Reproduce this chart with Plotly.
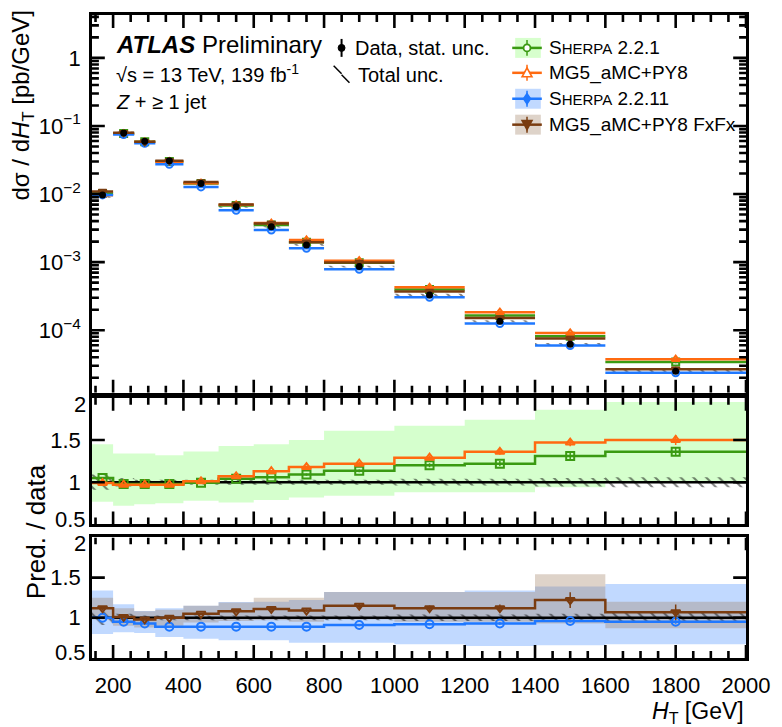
import math
import plotly.graph_objects as go
from plotly.subplots import make_subplots

# ---- binning and measured cross-section -------------------------------------
ht_edges = [140, 200, 260, 320, 400, 500, 600, 700, 800, 1000, 1200, 1400, 1600, 2000]
data_xsec = [9.7e-3, 7.9e-2, 5.97e-2, 3.08e-2, 1.43e-2, 6.5e-3, 3.32e-3,
             1.79e-3, 8.6e-4, 3.3e-4, 1.35e-4, 6.2e-5, 2.5e-5]          # pb/GeV
data_stat_rel = [0.01, 0.003, 0.003, 0.004, 0.005, 0.006, 0.008,
                 0.01, 0.012, 0.02, 0.03, 0.04, 0.05]
data_total_rel = [0.09, 0.05, 0.03, 0.03, 0.03, 0.03, 0.03,
                  0.03, 0.03, 0.04, 0.04, 0.05, 0.06]

# ---- predictions, as ratio to data ------------------------------------------
ratio_sherpa221 = [1.05, 0.98, 0.98, 0.98, 0.995, 1.04, 1.06, 1.09, 1.135, 1.20, 1.22, 1.31, 1.36]
band_sherpa221_lo = [0.77, 0.72, 0.74, 0.75, 0.78, 0.76, 0.79, 0.82, 0.84, 0.88, 0.88, 0.94, 1.00]
band_sherpa221_hi = [1.45, 1.34, 1.34, 1.32, 1.365, 1.43, 1.45, 1.50, 1.61, 1.67, 1.74, 1.86, 1.95]
stat_sherpa221 = [0.01, 0.005, 0.005, 0.005, 0.006, 0.008, 0.01, 0.012, 0.015, 0.02, 0.025, 0.03, 0.035]

ratio_mg5 = [0.99, 0.97, 0.97, 0.97, 1.01, 1.07, 1.13, 1.18, 1.22, 1.29, 1.36, 1.47, 1.50]
stat_mg5 = [0.01, 0.005, 0.005, 0.005, 0.006, 0.008, 0.01, 0.012, 0.015, 0.02, 0.025, 0.03, 0.04]

ratio_sherpa2211 = [1.00, 0.95, 0.93, 0.89, 0.89, 0.89, 0.89, 0.89, 0.91, 0.92, 0.93, 0.96, 0.95]
band_sherpa2211_lo = [0.80, 0.82, 0.81, 0.76, 0.74, 0.72, 0.72, 0.69, 0.69, 0.67, 0.65, 0.66, 0.67]
band_sherpa2211_hi = [1.34, 1.17, 1.085, 1.12, 1.15, 1.195, 1.20, 1.22, 1.32, 1.32, 1.34, 1.39, 1.42]
stat_sherpa2211 = [0.01, 0.005, 0.005, 0.005, 0.006, 0.008, 0.01, 0.012, 0.015, 0.015, 0.02, 0.02, 0.025]

ratio_fxfx = [1.12, 1.01, 0.98, 1.00, 1.05, 1.08, 1.11, 1.09, 1.15, 1.12, 1.12, 1.22, 1.07]
band_fxfx_lo = [0.98, 0.90, 0.88, 0.90, 0.94, 0.96, 0.97, 0.95, 0.98, 0.95, 0.95, 0.93, 0.87]
band_fxfx_hi = [1.25, 1.12, 1.08, 1.10, 1.15, 1.19, 1.25, 1.25, 1.32, 1.32, 1.32, 1.54, 1.20]
stat_fxfx = [0.02, 0.01, 0.01, 0.01, 0.01, 0.015, 0.02, 0.02, 0.03, 0.03, 0.04, 0.08, 0.09]

# axis settings
x_range = [140, 2000]
x_major = list(range(200, 2001, 200))
x_minor = [v for v in range(150, 2001, 50) if v % 200]
top_log_range = [-4.92, 0.63]
top_major = [1e-4, 1e-3, 1e-2, 1e-1, 1]
top_ticktext = ["10<sup>−4</sup>", "10<sup>−3</sup>", "10<sup>−2</sup>", "10<sup>−1</sup>", "1"]
top_minor = [m * 10.0 ** k for k in range(-5, 1) for m in range(2, 10)]
ratio_range = [0.5, 2.0]
ratio_major = [1.0, 1.5]

FONT = "Liberation Sans, Arial, Helvetica, sans-serif"
C_GREEN, C_ORANGE, C_BLUE, C_BROWN = "#3a9a12", "#ff6a10", "#1f78ff", "#7a3c10"
BAND_GREEN = "rgba(150,255,130,0.40)"
BAND_BLUE = "rgba(100,160,255,0.40)"
BAND_TAN = "rgba(160,130,100,0.35)"

H, W = 727, 782
MT, MB, ML, MR = 13, 69, 92, 27
ph = H - MT - MB
pw = W - ML - MR
panels_px = [(13, 392), (397, 524), (537, 658)]   # top / bottom pixel edge of each panel

n_bins = len(ht_edges) - 1
centers = [(ht_edges[i] + ht_edges[i + 1]) / 2 for i in range(n_bins)]


def segments(vals):
    xs, ys = [], []
    for i, v in enumerate(vals):
        xs += [ht_edges[i], ht_edges[i + 1], None]
        ys += [v, v, None]
    return xs, ys


def boxes(lo, hi):
    xs, ys = [], []
    for i in range(n_bins):
        a, b = ht_edges[i], ht_edges[i + 1]
        xs += [a, b, b, a, a, None]
        ys += [lo[i], lo[i], hi[i], hi[i], lo[i], None]
    return xs, ys


def step(vals):
    return list(ht_edges), list(vals) + [vals[-1]]


fig = make_subplots(rows=3, cols=1, shared_xaxes=True)

hatch = dict(shape="\\", fgcolor="black", bgcolor="rgba(0,0,0,0)", size=9, solidity=0.22)

# ---------------- top panel: differential cross-section ---------------------
tot_lo = [d * (1 - r) for d, r in zip(data_xsec, data_total_rel)]
tot_hi = [d * (1 + r) for d, r in zip(data_xsec, data_total_rel)]
bx, by = boxes(tot_lo, tot_hi)
fig.add_trace(go.Scatter(x=bx, y=by, mode="lines", fill="toself", line=dict(width=0),
                         fillcolor="rgba(0,0,0,0)", fillpattern=hatch, hoverinfo="skip"),
              row=1, col=1)

preds = [
    (ratio_sherpa221, stat_sherpa221, C_GREEN, "square-open"),
    (ratio_mg5, stat_mg5, C_ORANGE, "triangle-up-open"),
    (ratio_sherpa2211, stat_sherpa2211, C_BLUE, "circle-open"),
    (ratio_fxfx, stat_fxfx, C_BROWN, "triangle-down-open"),
]
for ratio, stat, color, sym in preds:
    vals = [d * r for d, r in zip(data_xsec, ratio)]
    sx, sy = segments(vals)
    fig.add_trace(go.Scatter(x=sx, y=sy, mode="lines", line=dict(color=color, width=2.5),
                             hoverinfo="skip"), row=1, col=1)
    fig.add_trace(go.Scatter(x=centers, y=vals, mode="markers",
                             marker=dict(symbol=sym, size=7, color=color, line=dict(width=2)),
                             error_y=dict(type="data", array=[v * s for v, s in zip(vals, stat)],
                                          color=color, thickness=1.5, width=0)),
                  row=1, col=1)

fig.add_trace(go.Scatter(x=centers, y=data_xsec, mode="markers",
                         marker=dict(symbol="circle", size=7, color="black"),
                         error_y=dict(type="data", array=[d * s for d, s in zip(data_xsec, data_stat_rel)],
                                      color="black", thickness=1.5, width=0)),
              row=1, col=1)


# ---------------- ratio panels ----------------------------------------------
def ratio_panel(row, bands, lines):
    for lo, hi, fillc in bands:
        x, y = boxes(lo, hi)
        fig.add_trace(go.Scatter(x=x, y=y, mode="lines", fill="toself", fillcolor=fillc,
                                 line=dict(width=0), hoverinfo="skip"), row=row, col=1)
    lo = [1 - r for r in data_total_rel]
    hi = [1 + r for r in data_total_rel]
    x, y = boxes(lo, hi)
    fig.add_trace(go.Scatter(x=x, y=y, mode="lines", fill="toself", line=dict(width=0),
                             fillcolor="rgba(0,0,0,0)", fillpattern=hatch, hoverinfo="skip"),
                  row=row, col=1)
    ones = [1.0] * n_bins
    x, y = step(ones)
    fig.add_trace(go.Scatter(x=x, y=y, mode="lines", line=dict(color="black", width=2.5, shape="hv"),
                             hoverinfo="skip"), row=row, col=1)
    for ratio, stat, color, sym in lines:
        x, y = step(ratio)
        fig.add_trace(go.Scatter(x=x, y=y, mode="lines", line=dict(color=color, width=2.5, shape="hv"),
                                 hoverinfo="skip"), row=row, col=1)
        fig.add_trace(go.Scatter(x=centers, y=ratio, mode="markers",
                                 marker=dict(symbol=sym, size=8, color=color, line=dict(width=2)),
                                 error_y=dict(type="data", array=[r * s for r, s in zip(ratio, stat)],
                                              color=color, thickness=1.5, width=0)),
                      row=row, col=1)


ratio_panel(2, [(band_sherpa221_lo, band_sherpa221_hi, BAND_GREEN)],
            [(ratio_sherpa221, stat_sherpa221, C_GREEN, "square-open"),
             (ratio_mg5, stat_mg5, C_ORANGE, "triangle-up-open")])
ratio_panel(3, [(band_sherpa2211_lo, band_sherpa2211_hi, BAND_BLUE),
                (band_fxfx_lo, band_fxfx_hi, BAND_TAN)],
            [(ratio_sherpa2211, stat_sherpa2211, C_BLUE, "circle-open"),
             (ratio_fxfx, stat_fxfx, C_BROWN, "triangle-down-open")])


# ---------------- inward tick marks on all four sides ------------------------
def add_ticks(row, log_y):
    t_px, b_px = panels_px[row - 1]
    hpx = b_px - t_px
    if log_y:
        y0, y1 = top_log_range
        yconv = lambda v: 10 ** v
        yvals = [(math.log10(v), 13) for v in top_major] + [(math.log10(v), 7) for v in top_minor]
    else:
        y0, y1 = ratio_range
        yconv = lambda v: v
        yvals = [(v, 13) for v in ratio_major]
    xs, ys = [], []
    for vals, ln in ((x_major, 13), (x_minor, 7)):
        dy = ln / hpx * (y1 - y0)
        for v in vals:
            xs += [v, v, None, v, v, None]
            ys += [yconv(y0), yconv(y0 + dy), None, yconv(y1 - dy), yconv(y1), None]
    for yv, ln in yvals:
        if not y0 <= yv <= y1:
            continue
        dx = ln / pw * (x_range[1] - x_range[0])
        xs += [x_range[0], x_range[0] + dx, None, x_range[1] - dx, x_range[1], None]
        ys += [yconv(yv), yconv(yv), None, yconv(yv), yconv(yv), None]
    fig.add_trace(go.Scatter(x=xs, y=ys, mode="lines", line=dict(color="black", width=2.6),
                             hoverinfo="skip"), row=row, col=1)


add_ticks(1, True)
add_ticks(2, False)
add_ticks(3, False)

# ---------------- axes --------------------------------------------------------
def dom(top_px, bot_px):
    return [(H - MB - bot_px) / ph, (H - MB - top_px) / ph]


axis_common = dict(showline=True, linecolor="black", linewidth=2.5, mirror=True,
                   ticks="", showgrid=False, zeroline=False,
                   tickfont=dict(family=FONT, size=22, color="black"))

fig.update_xaxes(**axis_common, range=x_range, tickmode="array", tickvals=x_major,
                 ticktext=[str(v) for v in x_major])
fig.update_xaxes(showticklabels=False, row=1, col=1)
fig.update_xaxes(showticklabels=False, row=2, col=1)

fig.update_yaxes(**axis_common, type="log", range=top_log_range, tickmode="array",
                 tickvals=top_major, ticktext=top_ticktext, row=1, col=1)
fig.update_yaxes(**axis_common, range=ratio_range, tickmode="array",
                 tickvals=ratio_major, ticktext=["1", "1.5"], row=2, col=1)
fig.update_yaxes(**axis_common, range=ratio_range, tickmode="array",
                 tickvals=ratio_major, ticktext=["1", "1.5"], row=3, col=1)
fig.update_layout(
    yaxis=dict(domain=dom(*panels_px[0]), ticklabelstandoff=4),
    yaxis2=dict(domain=dom(*panels_px[1]), ticklabelstandoff=4),
    yaxis3=dict(domain=dom(*panels_px[2]), ticklabelstandoff=4),
    xaxis3=dict(ticklabelstandoff=6),
)


# ---------------- legend and labels (paper coordinates from pixels) ----------
def px(x):
    return (x - ML) / pw


def py(y):
    return (H - MB - y) / ph


def marker_path(sym, cx, cy, r):
    if sym == "triangle-up":
        pts = [(cx, cy - r), (cx + r, cy + r * 0.8), (cx - r, cy + r * 0.8)]
    elif sym == "triangle-down":
        pts = [(cx, cy + r), (cx + r, cy - r * 0.8), (cx - r, cy - r * 0.8)]
    else:  # diamond
        pts = [(cx, cy - r), (cx + r * 0.7, cy), (cx, cy + r), (cx - r * 0.7, cy)]
    return "M " + " L ".join(f"{px(a):.5f},{py(b):.5f}" for a, b in pts) + " Z"


shapes = []
annotations = []

# data key
shapes.append(dict(type="line", xref="paper", yref="paper", x0=px(345), x1=px(345), y0=py(37), y1=py(55),
                   line=dict(color="black", width=2)))
shapes.append(dict(type="circle", xref="paper", yref="paper", x0=px(341.5), x1=px(348.5), y0=py(49.5), y1=py(42.5),
                   fillcolor="black", line=dict(color="black", width=1)))
# hatch key for total uncertainty
for (x0, y0, x1, y1) in [(337, 64, 345, 72), (345, 73, 353, 81)]:
    shapes.append(dict(type="line", xref="paper", yref="paper", x0=px(x0), y0=py(y0), x1=px(x1), y1=py(y1),
                       line=dict(color="black", width=1.5)))

legend_rows = [
    (46, C_GREEN, "rgba(215,255,205,1)", "circle", False, "S<span style='font-size:15px'>HERPA</span> 2.2.1"),
    (71, C_ORANGE, None, "triangle-up", False, "MG5_aMC+PY8"),
    (97, C_BLUE, "rgba(193,217,255,1)", "diamond", True, "S<span style='font-size:15px'>HERPA</span> 2.2.11"),
    (123, C_BROWN, "rgba(222,211,201,1)", "triangle-down", True, "MG5_aMC+PY8 FxFx"),
]
for yk, color, boxc, sym, filled, label in legend_rows:
    if boxc:
        shapes.append(dict(type="rect", xref="paper", yref="paper", x0=px(521), x1=px(547),
                           y0=py(yk + 10), y1=py(yk - 10), fillcolor=boxc, line=dict(width=0)))
    shapes.append(dict(type="line", xref="paper", yref="paper", x0=px(518), x1=px(548), y0=py(yk), y1=py(yk),
                       line=dict(color=color, width=2.5)))
    shapes.append(dict(type="line", xref="paper", yref="paper", x0=px(533), x1=px(533), y0=py(yk - 8), y1=py(yk + 8),
                       line=dict(color=color, width=1.5)))
    fillc = color if filled else "white"
    if sym == "circle":
        shapes.append(dict(type="circle", xref="paper", yref="paper", x0=px(529.5), x1=px(536.5),
                           y0=py(yk + 3.5), y1=py(yk - 3.5), fillcolor=fillc, line=dict(color=color, width=1.8)))
    else:
        shapes.append(dict(type="path", xref="paper", yref="paper", path=marker_path(sym, 533, yk, 5),
                           fillcolor=fillc, line=dict(color=color, width=1.6)))
    annotations.append(dict(x=px(553), y=py(yk), xref="paper", yref="paper", text=label, showarrow=False,
                            xanchor="left", yanchor="middle",
                            font=dict(family=FONT, size=19, color="black")))

# edge labels of the ratio axes, nudged inside their panel
for text, ypix in (("2", 404), ("0.5", 519), ("2", 543), ("0.5", 652)):
    annotations.append(dict(x=px(ML - 4), y=py(ypix), xref="paper", yref="paper", text=text,
                            showarrow=False, xanchor="right", yanchor="middle",
                            font=dict(family=FONT, size=22, color="black")))

annotations += [
    dict(x=px(357), y=py(46), xref="paper", yref="paper", text="Data, stat. unc.", showarrow=False,
         xanchor="left", yanchor="middle", font=dict(family=FONT, size=20, color="black")),
    dict(x=px(360), y=py(73), xref="paper", yref="paper", text="Total unc.", showarrow=False,
         xanchor="left", yanchor="middle", font=dict(family=FONT, size=20, color="black")),
    dict(x=px(114), y=py(43), xref="paper", yref="paper", text="<b><i>ATLAS</i></b> Preliminary",
         showarrow=False, xanchor="left", yanchor="middle", font=dict(family=FONT, size=24, color="black")),
    dict(x=px(114), y=py(72), xref="paper", yref="paper", text="√s = 13 TeV, 139 fb<sup>-1</sup>",
         showarrow=False, xanchor="left", yanchor="middle", font=dict(family=FONT, size=20, color="black")),
    dict(x=px(114), y=py(100), xref="paper", yref="paper", text="<i>Z</i> + ≥ 1 jet", showarrow=False,
         xanchor="left", yanchor="middle", font=dict(family=FONT, size=20, color="black")),
    # axis titles
    dict(x=px(22), y=py(5), xref="paper", yref="paper", textangle=-90,
         text="dσ / d<i>H</i><sub>T</sub> [pb/GeV]", showarrow=False, xanchor="center", yanchor="top",
         font=dict(family=FONT, size=24, color="black")),
    dict(x=px(36), y=py(531), xref="paper", yref="paper", textangle=-90,
         text="Pred. / data", showarrow=False, xanchor="center", yanchor="middle",
         font=dict(family=FONT, size=26, color="black")),
    dict(x=1.0, y=py(713), xref="paper", yref="paper",
         text="<i>H</i><sub>T</sub> [GeV]", showarrow=False, xanchor="right", yanchor="middle",
         font=dict(family=FONT, size=23, color="black")),
]

fig.update_layout(
    width=W, height=H,
    margin=dict(t=MT, b=MB, l=ML, r=MR, pad=0),
    paper_bgcolor="white", plot_bgcolor="white",
    showlegend=False,
    shapes=shapes, annotations=annotations,
    font=dict(family=FONT, color="black"),
)

fig.write_html("out.html")
